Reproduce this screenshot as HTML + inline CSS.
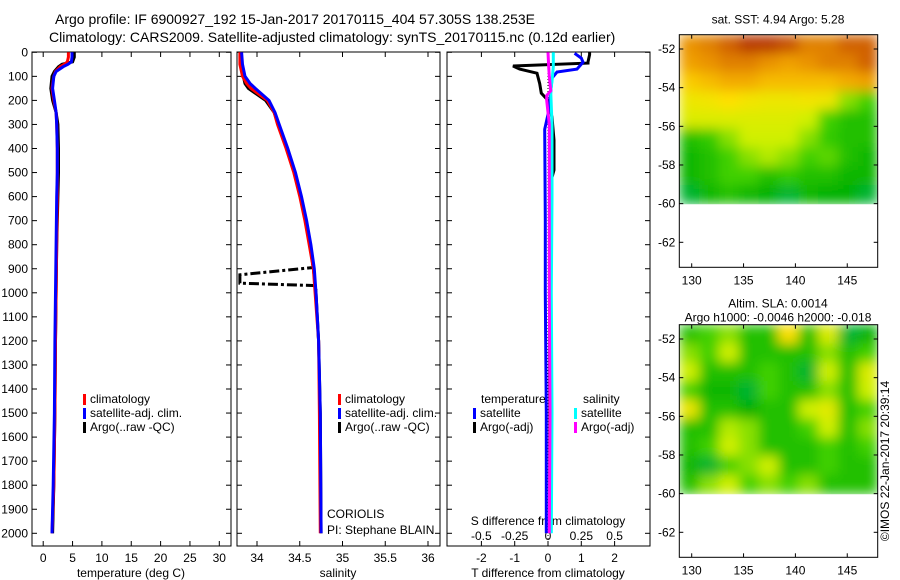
<!DOCTYPE html>
<html><head><meta charset="utf-8">
<style>
html,body{margin:0;padding:0;background:#fff;}
svg{display:block;font-family:"Liberation Sans",sans-serif;}
text{fill:#000;}
</style></head>
<body>
<svg id="fig" width="900" height="580" viewBox="0 0 900 580" xmlns="http://www.w3.org/2000/svg">
<defs>
<clipPath id="c1"><rect x="32" y="52" width="199" height="494"/></clipPath>
<clipPath id="c2"><rect x="237" y="52" width="203" height="494"/></clipPath>
<clipPath id="c3"><rect x="447" y="52" width="203" height="494"/></clipPath>
<clipPath id="cm1"><rect x="679.3" y="34.7" width="198.4" height="169.6"/></clipPath>
<clipPath id="cm2"><rect x="679.3" y="324.7" width="198.4" height="169.6"/></clipPath>
<filter id="blur" x="0" y="0" width="1" height="1"><feGaussianBlur stdDeviation="6" edgeMode="duplicate"/></filter>
</defs>
<text x="55" y="24" font-size="14">Argo profile: IF 6900927_192 15-Jan-2017 20170115_404 57.305S 138.253E</text>
<text x="49" y="42" font-size="14">Climatology: CARS2009. Satellite-adjusted climatology: synTS_20170115.nc (0.12d earlier)</text>
<g id="g1"></g>
<g id="g2"></g>
<g id="g3"></g>
<g id="gm1"></g>
<g id="gm2"></g>
<text transform="translate(889,461) rotate(-90)" text-anchor="middle" font-size="12">©IMOS 22-Jan-2017 20:39:14</text>
</svg>
<script>
// ---- data ----
const depthT=[0,20,40,50,60,80,100,150,200,250,300,400,500,600,800,1000,1200,1500,1800,2000];
const tempClim=[4.3,4.3,4.1,3.6,2.9,2.1,1.8,1.5,1.8,2.2,2.3,2.4,2.4,2.4,2.3,2.2,2.1,2.0,1.8,1.5];
const tempSat=[4.9,4.9,4.8,4.2,3.4,2.2,1.8,1.6,1.9,2.2,2.3,2.4,2.4,2.3,2.2,2.1,2.0,1.9,1.7,1.5];
const tempArgo=[5.3,5.3,5.0,3.2,2.6,1.9,1.5,1.3,1.6,2.2,2.5,2.6,2.6,2.5,2.3,2.2,2.1,2.0,1.8,1.6];
const depthS=[0,50,100,130,150,200,250,300,400,500,600,700,800,900,1000,1200,1500,2000];
const salClim=[33.80,33.80,33.83,33.88,33.93,34.12,34.20,34.24,34.34,34.43,34.50,34.56,34.61,34.66,34.68,34.72,34.73,34.74];
const salSat=[33.82,33.83,33.86,33.92,33.98,34.14,34.21,34.26,34.36,34.45,34.52,34.58,34.63,34.67,34.69,34.72,34.74,34.75];
const salArgo=[33.81,33.82,33.84,33.86,33.90,34.10,34.20,34.25,34.35,34.44,34.51,34.57,34.62,34.66,34.69,34.72,34.74,34.75];
const depthSpike=[880,895,925,960,970,990];
const salSpike=[34.65,34.66,33.80,33.80,34.68,34.69];
const depthTdArgo=[0,10,40,45,57,70,87,130,170,200,270,365,490,530,700,1000,1500,2000];
const tdArgo=[1.25,1.25,1.2,1.2,-1.05,-0.85,-0.33,-0.25,-0.2,0.0,0.12,0.18,0.18,0.1,0.05,0.05,0.05,0.05];
const depthTdSat=[4,24,41,70,82,107,240,320,700,1000,1500,2000];
const tdSat=[0.8,1.0,1.05,0.87,0.27,0.12,0.03,-0.1,-0.08,-0.08,-0.05,-0.05];
const depthSdSat=[0,60,120,160,300,600,1000,1500,2000];
const sdSat=[0.04,0.04,0.03,0.02,0.03,0.03,0.025,0.03,0.025];
const depthSdArgo=[0,60,100,160,180,200,300,600,1000,1500,2000];
const sdArgo=[0.0,0.005,0.01,0.02,-0.01,-0.01,0.01,0.01,0.01,0.015,0.01];
const depthTicks=[0,100,200,300,400,500,600,700,800,900,1000,1100,1200,1300,1400,1500,1600,1700,1800,1900,2000];
const tempTicks=[0,5,10,15,20,25,30];
const salTicks=[34,34.5,35,35.5,36];
const tdTicks=[-2,-1,0,1,2];
const sdTicks=[-0.5,-0.25,0,0.25,0.5];
const sdTickLabels=["-0.5","-0.25","0","0.25","0.5"];
const latTicks=[-52,-54,-56,-58,-60,-62];
const lonTicks=[130,135,140,145];
const sstGrid=[
[0.82,0.85,0.9,0.95,0.95,0.92,0.85,0.85,0.9,0.9],
[0.8,0.82,0.85,0.85,0.82,0.8,0.82,0.85,0.85,0.9],
[0.72,0.75,0.78,0.78,0.75,0.75,0.75,0.75,0.78,0.8],
[0.65,0.66,0.68,0.66,0.65,0.65,0.66,0.65,0.55,0.5],
[0.62,0.62,0.62,0.62,0.62,0.62,0.6,0.5,0.45,0.45],
[0.45,0.48,0.55,0.6,0.6,0.6,0.55,0.48,0.45,0.45],
[0.42,0.45,0.5,0.55,0.58,0.55,0.5,0.52,0.45,0.42],
[0.42,0.45,0.5,0.5,0.45,0.48,0.45,0.45,0.42,0.42],
[0.38,0.42,0.45,0.42,0.4,0.38,0.42,0.4,0.4,0.38]];
const slaGrid=[
[0.45,0.5,0.55,0.45,0.45,0.68,0.45,0.62,0.38,0.4],
[0.55,0.5,0.6,0.45,0.45,0.45,0.45,0.55,0.45,0.5],
[0.6,0.45,0.45,0.45,0.5,0.45,0.38,0.6,0.45,0.62],
[0.5,0.42,0.42,0.38,0.5,0.45,0.45,0.55,0.45,0.6],
[0.65,0.45,0.45,0.4,0.45,0.45,0.6,0.63,0.45,0.5],
[0.45,0.45,0.58,0.55,0.45,0.45,0.5,0.6,0.45,0.55],
[0.45,0.5,0.6,0.55,0.45,0.45,0.45,0.5,0.45,0.5],
[0.42,0.38,0.5,0.55,0.6,0.45,0.45,0.5,0.45,0.45],
[0.45,0.55,0.6,0.5,0.55,0.5,0.55,0.45,0.45,0.45]];

// ---- helpers ----
const NS="http://www.w3.org/2000/svg";
function mk(parent,tag,attrs,txt){const e=document.createElementNS(NS,tag);for(const k in attrs)e.setAttribute(k,attrs[k]);if(txt!==undefined)e.textContent=txt;parent.appendChild(e);return e;}
const Y=d=>52.3+d*0.2405;
const XT=t=>43.2+t*5.87;
const XS=s=>257+(s-34)*85.5;
const XD=t=>548+t*33.3;
const XSD=s=>548+s*133.3;
function path(g,xs,ds,fx,color,w,clip,name,dash){
  const d=xs.map((v,i)=>(i?'L':'M')+fx(v).toFixed(1)+' '+Y(ds[i]).toFixed(1)).join(' ');
  const p=mk(g,'path',{d:d,fill:'none',stroke:color,'stroke-width':w,'clip-path':'url(#'+clip+')'});
  if(dash)p.setAttribute('stroke-dasharray',dash);
  
  
}
function frame(g,x,w,name){
  const r=mk(g,'rect',{x:x,y:52,width:w,height:494,fill:'none',stroke:'#000','stroke-width':1});
  
  
  depthTicks.forEach(d=>{mk(g,'line',{x1:x,x2:x+5,y1:Y(d),y2:Y(d),stroke:'#000'});mk(g,'line',{x1:x+w,x2:x+w-5,y1:Y(d),y2:Y(d),stroke:'#000'});});
}
function legend(g,x,y,items){
  items.forEach((it,i)=>{
    const m=mk(g,'rect',{x:x,y:y+i*14-9,width:3,height:11,fill:it[0]});
    
    
    const t=mk(g,'text',{x:x+7,y:y+i*14,'font-size':12},it[1]);
    
    
  });
}

// ---- panel 1 temperature ----
const g1=document.getElementById('g1');
frame(g1,32,199,'temperature-axes');
depthTicks.forEach(d=>{const t=mk(g1,'text',{x:28,y:Y(d)+4,'font-size':12,'text-anchor':'end'},String(d));
  });
tempTicks.forEach(v=>{mk(g1,'line',{x1:XT(v),x2:XT(v),y1:546,y2:541,stroke:'#000'});mk(g1,'line',{x1:XT(v),x2:XT(v),y1:52,y2:57,stroke:'#000'});
  const t=mk(g1,'text',{x:XT(v),y:562,'font-size':12,'text-anchor':'middle'},String(v));
  });
const xl1=mk(g1,'text',{x:131,y:577,'font-size':12,'text-anchor':'middle'},'temperature (deg C)');

path(g1,tempArgo,depthT,XT,'#000',3,'c1','temperature-argo-line');
path(g1,tempClim,depthT,XT,'#f00',3,'c1','temperature-climatology-line');
path(g1,tempSat,depthT,XT,'#00f',3,'c1','temperature-satellite-line');
legend(g1,83,403,[['#f00','climatology'],['#00f','satellite-adj. clim.'],['#000','Argo(..raw -QC)']]);

// ---- panel 2 salinity ----
const g2=document.getElementById('g2');
frame(g2,237,203,'salinity-axes');
salTicks.forEach(v=>{mk(g2,'line',{x1:XS(v),x2:XS(v),y1:546,y2:541,stroke:'#000'});mk(g2,'line',{x1:XS(v),x2:XS(v),y1:52,y2:57,stroke:'#000'});
  const t=mk(g2,'text',{x:XS(v),y:562,'font-size':12,'text-anchor':'middle'},String(v));
  });
const xl2=mk(g2,'text',{x:338,y:577,'font-size':12,'text-anchor':'middle'},'salinity');

path(g2,salArgo,depthS,XS,'#000',3,'c2','salinity-argo-line');
path(g2,salSpike,depthSpike,XS,'#000',3,'c2','salinity-argo-spike','10,3,3,3');
path(g2,salClim,depthS,XS,'#f00',3,'c2','salinity-climatology-line');
path(g2,salSat,depthS,XS,'#00f',3,'c2','salinity-satellite-line');
legend(g2,338,403,[['#f00','climatology'],['#00f','satellite-adj. clim.'],['#000','Argo(..raw -QC)']]);
const c1=mk(g2,'text',{x:327,y:518,'font-size':12},'CORIOLIS');
const c2=mk(g2,'text',{x:327,y:534,'font-size':12},'PI: Stephane BLAIN');

// ---- panel 3 differences ----
const g3=document.getElementById('g3');
frame(g3,447,203,'difference-axes');
tdTicks.forEach(v=>{mk(g3,'line',{x1:XD(v),x2:XD(v),y1:546,y2:541,stroke:'#000'});mk(g3,'line',{x1:XD(v),x2:XD(v),y1:52,y2:57,stroke:'#000'});
  const t=mk(g3,'text',{x:XD(v),y:562,'font-size':12,'text-anchor':'middle'},String(v));
  });
sdTicks.forEach((v,i)=>{const t=mk(g3,'text',{x:XSD(v),y:540,'font-size':12,'text-anchor':'middle'},sdTickLabels[i]);
  });
const sl=mk(g3,'text',{x:548,y:525,'font-size':12,'text-anchor':'middle'},'S difference from climatology');

const xl3=mk(g3,'text',{x:548,y:577,'font-size':12,'text-anchor':'middle'},'T difference from climatology');

mk(g3,'line',{x1:XD(0),x2:XD(0),y1:52,y2:546,stroke:'#000','stroke-dasharray':'1,2'});
path(g3,tdArgo,depthTdArgo,XD,'#000',3,'c3','t-diff-argo-line');
path(g3,tdSat,depthTdSat,XD,'#00f',3,'c3','t-diff-satellite-line');
path(g3,sdSat,depthSdSat,XSD,'#0ff',3,'c3','s-diff-satellite-line');
path(g3,sdArgo,depthSdArgo,XSD,'#f0f',3,'c3','s-diff-argo-line');
const lt=mk(g3,'text',{x:481,y:403,'font-size':12},'temperature');
const ls=mk(g3,'text',{x:583,y:403,'font-size':12},'salinity');
legend(g3,473,417,[['#00f','satellite'],['#000','Argo(-adj)']]);
legend(g3,574,417,[['#0ff','satellite'],['#f0f','Argo(-adj)']]);

// ---- maps ----
const stops=[[0.15,[0,0,160]],[0.3,[0,192,255]],[0.4,[0,176,0]],[0.5,[64,208,0]],[0.6,[208,240,0]],[0.68,[255,224,0]],[0.8,[240,160,0]],[0.9,[208,96,0]],[1.0,[160,16,0]]];
function cmap(v){
  if(v<=stops[0][0])return 'rgb('+stops[0][1]+')';
  for(let i=1;i<stops.length;i++){if(v<=stops[i][0]){const a=stops[i-1],b=stops[i],f=(v-a[0])/(b[0]-a[0]);
    return 'rgb('+a[1].map((c,k)=>Math.round(c+(b[1][k]-c)*f)).join(',')+')';}}
  return 'rgb('+stops[stops.length-1][1]+')';
}
const LX=lon=>691.7+(lon-130)*10.37;
function map(g,top,grid,clip,title1,title2,name){
  const LY=lat=>top+14.3+(-52-lat)*19.33;
  const x0=679.3,x1=877.7,yTop=top,yData=LY(-60);
  const cg=mk(g,'g',{'clip-path':'url(#'+clip+')'});
  const fg=mk(cg,'g',{filter:'url(#blur)'});
  const rows=grid.length,cols=grid[0].length,cw=(x1-x0)/cols,ch=(yData-yTop)/rows;
  grid.forEach((row,r)=>row.forEach((v,c)=>{
    const cell=mk(fg,'rect',{x:(x0+c*cw).toFixed(2),y:(yTop+r*ch).toFixed(2),width:(cw+0.5).toFixed(2),height:(ch+0.5).toFixed(2),fill:cmap(v)});
    
    
  }));
  const fr=mk(g,'rect',{x:x0,y:top,width:x1-x0,height:232.6,fill:'none',stroke:'#000'});
  
  latTicks.forEach(l=>{mk(g,'line',{x1:x0,x2:x0+4,y1:LY(l),y2:LY(l),stroke:'#000'});mk(g,'line',{x1:x1,x2:x1-4,y1:LY(l),y2:LY(l),stroke:'#000'});
    const t=mk(g,'text',{x:x0-4,y:LY(l)+4,'font-size':12,'text-anchor':'end'},String(l));
    });
  lonTicks.forEach(l=>{mk(g,'line',{x1:LX(l),x2:LX(l),y1:top,y2:top+4,stroke:'#000'});mk(g,'line',{x1:LX(l),x2:LX(l),y1:top+232.6,y2:top+228.6,stroke:'#000'});
    const t=mk(g,'text',{x:LX(l),y:top+250,'font-size':12,'text-anchor':'middle'},String(l));
    });
  if(title2){
    const a=mk(g,'text',{x:778,y:top-17,'font-size':12,'text-anchor':'middle'},title1);
    const b=mk(g,'text',{x:778,y:top-3,'font-size':12,'text-anchor':'middle'},title2);
  } else {
    const a=mk(g,'text',{x:778,y:top-11,'font-size':12,'text-anchor':'middle'},title1);
  }
}
map(document.getElementById('gm1'),34.7,sstGrid,'cm1','sat. SST: 4.94  Argo: 5.28',null,'sst-map');
map(document.getElementById('gm2'),324.7,slaGrid,'cm2','Altim. SLA: 0.0014','Argo h1000: -0.0046 h2000: -0.018','sla-map');
</script>
</body></html>
